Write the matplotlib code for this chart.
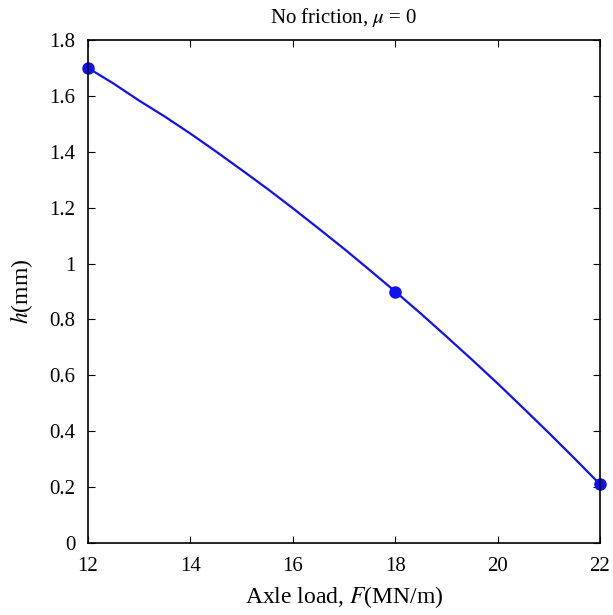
import matplotlib.pyplot as plt

# points marked on the curve
load_pts = [12, 18, 22]
h_pts = [1.70, 0.90, 0.21]

# curve every half unit of load
load_curve = [12, 12.5, 13, 13.5, 14, 14.5, 15, 15.5, 16, 16.5, 17,
              17.5, 18, 18.5, 19, 19.5, 20, 20.5, 21, 21.5, 22]
h_curve = [1.70, 1.644, 1.583, 1.526, 1.465, 1.401, 1.335, 1.268, 1.198, 1.126, 1.053,
           0.977, 0.90, 0.821, 0.739, 0.656, 0.571, 0.483, 0.394, 0.303, 0.21]

xticks = [12, 14, 16, 18, 20, 22]
yticks = [0, 0.2, 0.4, 0.6, 0.8, 1, 1.2, 1.4, 1.6, 1.8]
ytick_labels = ["0", "0.2", "0.4", "0.6", "0.8", "1", "1.2", "1.4", "1.6", "1.8"]

plt.rcParams["font.family"] = ["Liberation Serif", "DejaVu Serif"]
plt.rcParams["mathtext.fontset"] = "stix"

fig = plt.figure(figsize=(6.13, 6.15), dpi=100)
ax = fig.add_axes([88 / 613, 1 - 543 / 615, 512 / 613, 503 / 615])

ax.plot(load_curve, h_curve, color="#1010f0", linewidth=1.6)
ax.plot(load_pts, h_pts, "o", color="#1010f0", markersize=8, clip_on=False)

ax.set_xlim(12, 22)
ax.set_ylim(0, 1.8)
ax.set_xticks(xticks)
ax.set_yticks(yticks)
ax.set_yticklabels(ytick_labels)
ax.tick_params(direction="in", top=True, right=True, length=5, labelsize=15)
ax.tick_params(axis="x", pad=10)
ax.tick_params(axis="y", pad=9)
for s in ax.spines.values():
    s.set_linewidth(1.2)

ax.set_title(r"No friction, $\mu$ = 0", fontsize=15, pad=12)
ax.set_xlabel(r"Axle load, $F$(MN/m)", fontsize=17, labelpad=6)
ax.set_ylabel(r"$h$(mm)", fontsize=17, labelpad=10)

fig.savefig("out.png", dpi=100)
